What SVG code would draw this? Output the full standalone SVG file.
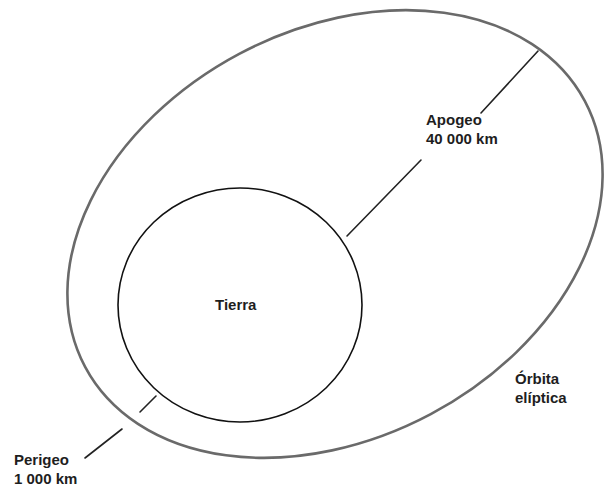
<svg xmlns="http://www.w3.org/2000/svg" width="604" height="489" viewBox="0 0 604 489">
<style>
.lbl{font-family:"Liberation Sans",Arial,sans-serif;font-size:15px;font-weight:bold;fill:#1e1e1e}
.conn{stroke:#222;stroke-width:1.6;fill:none;stroke-linecap:round}
</style>
<rect width="604" height="489" fill="#fff"/>
<g id="orbita">
<ellipse cx="335" cy="234" rx="283" ry="204" transform="rotate(-28 335 234)" fill="none" stroke="#6a6a6a" stroke-width="2.6"/>
<text class="lbl" x="515" y="384">Órbita</text>
<text class="lbl" x="515" y="403">elíptica</text>
</g>
<g id="tierra">
<ellipse cx="240" cy="305" rx="122" ry="117" fill="none" stroke="#111" stroke-width="1.6"/>
<text class="lbl" x="215" y="310">Tierra</text>
</g>
<g id="apogeo">
<text class="lbl" x="426" y="125">Apogeo</text>
<text class="lbl" x="426" y="144">40 000 km</text>
</g>
<g id="perigeo">
<text class="lbl" x="14" y="465">Perigeo</text>
<text class="lbl" x="14" y="484">1 000 km</text>
</g>
<g id="connectors">
<line class="conn" x1="538" y1="51" x2="481" y2="113"/>
<line class="conn" x1="421" y1="160" x2="347" y2="236"/>
<line class="conn" x1="156" y1="396" x2="140" y2="412"/>
<line class="conn" x1="122" y1="429" x2="85" y2="458"/>
</g>
</svg>
